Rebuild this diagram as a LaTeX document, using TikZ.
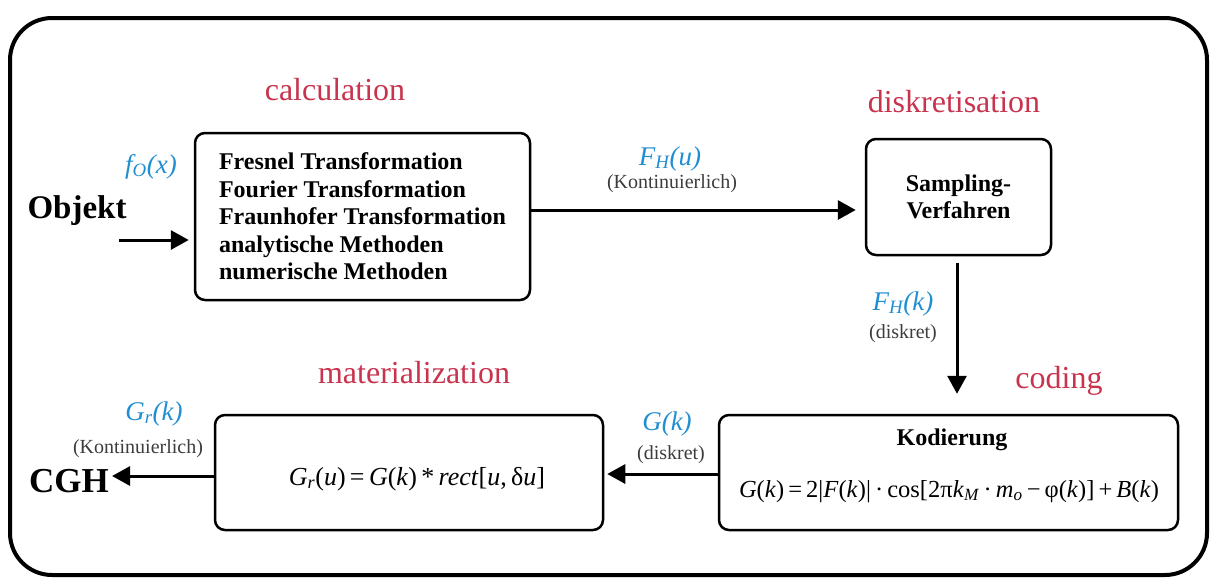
\documentclass[tikz,border=0pt]{standalone}
\usepackage{fontspec}
\setmainfont{Liberation Serif}
\usetikzlibrary{arrows.meta}
\definecolor{stagered}{RGB}{200,52,78}
\definecolor{sigblue}{RGB}{32,142,210}
\definecolor{notegray}{RGB}{60,60,60}
\tikzset{
  stagebox/.style={draw, line width=2.5pt, rounded corners=10pt, inner sep=0pt},
  stagelbl/.style={text=stagered, font=\fontsize{32}{36}\selectfont, anchor=base, inner sep=0pt},
  siglbl/.style={text=sigblue, font=\fontsize{27}{30}\selectfont\itshape, anchor=base, inner sep=0pt},
  notelbl/.style={text=notegray, font=\fontsize{20}{22}\selectfont, anchor=base, inner sep=0pt},
  boldtxt/.style={font=\bfseries\fontsize{24}{27.5}\selectfont},
  bigbold/.style={font=\bfseries\fontsize{33}{36}\selectfont, anchor=base, inner sep=0pt},
  formula/.style={font=\fontsize{24.5}{27}\selectfont, anchor=base, inner sep=0pt},
  arr/.style={line width=3pt, -{Triangle[length=18pt,width=19pt]}}
}
\begin{document}
\begin{tikzpicture}[x=1pt,y=-1pt]
\useasboundingbox (0,0) rectangle (1213,579);
% outer frame
\draw[line width=4pt, rounded corners=42pt] (10,18) rectangle (1207,575);

% stage labels
\node[stagelbl] (calcl) at (335,100) {calculation};
\node[stagelbl] (diskl) at (954,112) {diskretisation};
\node[stagelbl] (codl) at (1059,388) {coding};
\node[stagelbl] (matl) at (414,383) {materialization};

% boxes
\node[stagebox, boldtxt, minimum width=335pt, minimum height=167pt, align=left] (calc) at (362.5,216.5)
  {Fresnel Transformation\\Fourier Transformation\\Fraunhofer Transformation\\analytische Methoden\\numerische Methoden};
\node[stagebox, boldtxt, minimum width=185pt, minimum height=116pt, align=center] (samp) at (958.5,197)
  {Sampling-\\Verfahren};
\node[stagebox, minimum width=459pt, minimum height=115pt] (kod) at (948.5,472.5) {};
\node[boldtxt, anchor=base, inner sep=0pt] (kodt) at (952,445) {Kodierung};
\node[formula] (kodf) at (949,497)
  {\textit{G}(\textit{k})\,=\,2|\textit{F}(\textit{k})|\,·\,cos[2π\textit{k}\textsubscript{\textit{M}}\,·\,\textit{m}\textsubscript{\textit{o}}\,−\,φ(\textit{k})]\,+\,\textit{B}(\textit{k})};
\node[stagebox, minimum width=388pt, minimum height=115pt] (mat) at (409,472.5) {};
\node[formula, font=\fontsize{26}{28}\selectfont] (matf) at (417,485)
  {\textit{G}\textsubscript{\textit{r}}(\textit{u})\,=\,\textit{G}(\textit{k})\,*\,\textit{rect}[\textit{u},\,δ\textit{u}]};

% terminal texts
\node[bigbold] (obj) at (77,218) {Objekt};
\node[bigbold, font=\bfseries\fontsize{35}{38}\selectfont] (cgh) at (69,492) {CGH};

% signal labels
\node[siglbl] (fo) at (151,173) {f\textsubscript{O}(x)};
\node[siglbl] (fhu) at (670,165) {F\textsubscript{H}(u)};
\node[notelbl] (kont1) at (672,188) {(Kontinuierlich)};
\node[siglbl] (fhk) at (903,310) {F\textsubscript{H}(k)};
\node[notelbl] (disk1) at (903,338) {(diskret)};
\node[siglbl] (gk) at (667,430) {G(k)};
\node[notelbl] (disk2) at (671,459) {(diskret)};
\node[siglbl] (grk) at (154,420) {G\textsubscript{r}(k)};
\node[notelbl] (kont2) at (138,453) {(Kontinuierlich)};

% connectors
\coordinate (objstart) at (119,240);
\coordinate (ytop) at (0,210);
\coordinate (ybot) at (0,474);
\coordinate (ycgh) at (0,476);
\coordinate (xvert) at (957,0);
\draw[arr, shorten >=5pt] (objstart) -- (calc.west |- objstart);
\draw[arr, shorten >=9pt] (calc.east |- ytop) -- (samp.west |- ytop);
\draw[arr, shorten <=7pt, shorten >=20pt] (xvert |- samp.south) -- (xvert |- kod.north);
\draw[arr, shorten >=3pt] (kod.west |- ybot) -- (mat.east |- ybot);
\draw[arr, shorten >=3pt] (mat.west |- ycgh) -- (cgh.east |- ycgh);
\end{tikzpicture}
\end{document}
